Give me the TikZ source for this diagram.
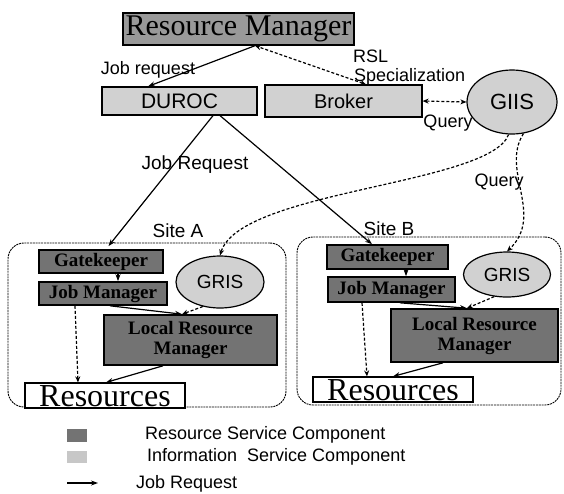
\documentclass[tikz,border=0pt]{standalone}
\usepackage{fontspec}
\setmainfont{Liberation Serif}
\setsansfont{Liberation Sans}
\usetikzlibrary{arrows.meta,shapes.geometric}

\begin{document}
\begin{tikzpicture}[x=1pt,y=-1pt,
  rmbox/.style={draw=black,line width=1.4pt,fill=black!40,inner sep=0pt,font=\fontsize{30}{30}\selectfont},
  lightbox/.style={draw=black,line width=1.2pt,fill=black!18,inner sep=0pt,font=\sffamily\fontsize{21}{21}\selectfont},
  lightoval/.style={ellipse,draw=black,line width=1.2pt,fill=black!18,inner sep=0pt,font=\sffamily\fontsize{19}{19}\selectfont},
  darkbox/.style={draw=black,line width=1.6pt,fill=black!55,inner sep=0pt,align=center,font=\bfseries\fontsize{19}{20}\selectfont},
  resbox/.style={draw=black,line width=1.2pt,fill=white,inner xsep=0pt,inner ysep=2pt,text height=21pt,text depth=0pt,minimum width=160,font=\fontsize{32}{32}\selectfont},
  sitebox/.style={draw=black,line width=0.9pt,dash pattern=on 2pt off 0.8pt,rounded corners=16pt,inner sep=0pt},
  lbl/.style={inner sep=0pt,font=\sffamily\fontsize{18}{15}\selectfont},
  jobreq/.style={line width=1.2pt,-{Stealth[length=7pt,width=5pt]}},
  query/.style={line width=1.2pt,dash pattern=on 3pt off 2pt,-{Stealth[length=6pt,width=5pt]}},
  querytwo/.style={query,{Stealth[length=6pt,width=5pt]}-{Stealth[length=6pt,width=5pt]}}]
\useasboundingbox (0,0) rectangle (564,493);
% sites:
\node (siteA) [sitebox,minimum width=278,minimum height=164] at (147,325) {};
\node (siteB) [sitebox,minimum width=264,minimum height=168] at (429,321) {};
\node (siteAlbl) [lbl,font=\sffamily\fontsize{19}{19}\selectfont] at (178,231) {Site A};
\node (siteBlbl) [lbl,font=\sffamily\fontsize{19}{19}\selectfont] at (389,229) {Site B};
% top level components:
\node (rm) [rmbox,minimum width=231,minimum height=32] at (238.5,29) {Resource Manager};
\node (duroc) [lightbox,minimum width=155,minimum height=28] at (179.5,101) {DUROC};
\node (broker) [lightbox,minimum width=157,minimum height=32,font=\sffamily\fontsize{20}{20}\selectfont] at (343.5,101) {Broker};
\node (giis) [lightoval,minimum width=90,minimum height=64,font=\sffamily\fontsize{22}{22}\selectfont] at (512,102) {GIIS};
% site A components:
\node (gkA) [darkbox,minimum width=124,minimum height=23] at (101,261.5) {Gatekeeper};
\node (jmA) [darkbox,minimum width=128,minimum height=23] at (103,293.5) {Job Manager};
\node (grisA) [lightoval,minimum width=88,minimum height=52] at (220,282) {GRIS};
\node (lrmA) [darkbox,minimum width=173,minimum height=50] at (190.5,340) {Local Resource\\Manager};
\node (resA) [resbox] at (105,395.5) {Resources};
% site B components:
\node (gkB) [darkbox,minimum width=121,minimum height=24] at (387.5,257) {Gatekeeper};
\node (jmB) [darkbox,minimum width=127,minimum height=25] at (391.5,289.5) {Job Manager};
\node (grisB) [lightoval,minimum width=87,minimum height=45] at (507,274.5) {GRIS};
\node (lrmB) [darkbox,minimum width=167,minimum height=53] at (474.5,335.5) {Local Resource\\Manager};
\node (resB) [resbox] at (393,389.5) {Resources};
% labels:
\node (lblJob) [lbl] at (148,70) {Job request};
\node (lblRsl) [lbl,anchor=base west] at (353,62) {RSL};
\node (lblSpec) [lbl,anchor=base west] at (354,81) {Specialization};
\node (lblQuery) [lbl] at (448,123) {Query};
\node (lblJobReq) [lbl,font=\sffamily\fontsize{19}{19}\selectfont] at (195,165) {Job Request};
\node (lblQueryTwo) [lbl] at (499,182) {Query};
% connectors:
\draw[jobreq] ([xshift=16.5pt]rm.south) -- ([xshift=-31.5pt]duroc.north);
\draw[querytwo] ([xshift=22.5pt]broker.north) -- ([xshift=16.5pt]rm.south);
\draw[querytwo] (broker.east) -- (giis.west);
\draw[jobreq,shorten >=4pt] ([xshift=33.5pt]duroc.south) -- ([xshift=5pt]gkA.north);
\draw[jobreq] ([xshift=40.5pt]duroc.south) -- ([xshift=-15.5pt]gkB.north);
\draw[query] (giis.-96) .. controls (490,185) and (240,190) .. (grisA.north);
\draw[query] (giis.-70) .. controls (500,170) and (545,215) .. (grisB.north);
% site A:
\draw[jobreq] ([xshift=17pt]gkA.south) -- ([xshift=15pt]jmA.north);
\draw[jobreq] ([xshift=7pt]jmA.south) -- ([xshift=-8.5pt]lrmA.north);
\draw[query] (grisA.-125) -- ([xshift=-8.5pt]lrmA.north);
\draw[query] ([xshift=-28pt]jmA.south) -- ([xshift=-27pt]resA.north);
\draw[jobreq] ([xshift=-27.5pt]lrmA.south) -- ([xshift=1pt]resA.north);
% site B:
\draw[jobreq] ([xshift=18.5pt]gkB.south) -- ([xshift=14.5pt]jmB.north);
\draw[jobreq] ([xshift=8.5pt]jmB.south) -- ([xshift=-7.5pt]lrmB.north);
\draw[query] (grisB.-120) -- ([xshift=-7.5pt]lrmB.north);
\draw[query] ([xshift=-29.5pt]jmB.south) -- ([xshift=-26pt]resB.north);
\draw[jobreq] ([xshift=-31.5pt]lrmB.south) -- (resB.north);
% legend:
\node (swRes) [fill=black!55,minimum width=20,minimum height=13,inner sep=0pt] at (77,435) {};
\node (swInf) [fill=black!22,minimum width=20,minimum height=12,inner sep=0pt] at (77,457) {};
\coordinate (legA) at (67,483);
\coordinate (legB) at (98,483);
\draw[jobreq] (legA) -- (legB);
\node (txtRes) [lbl,anchor=west] at (145,435) {Resource Service Component};
\node (txtInf) [lbl,anchor=west] at (147,457) {Information\ \ Service Component};
\node (txtJob) [lbl,anchor=west] at (136,484) {Job Request};
\end{tikzpicture}
\end{document}
